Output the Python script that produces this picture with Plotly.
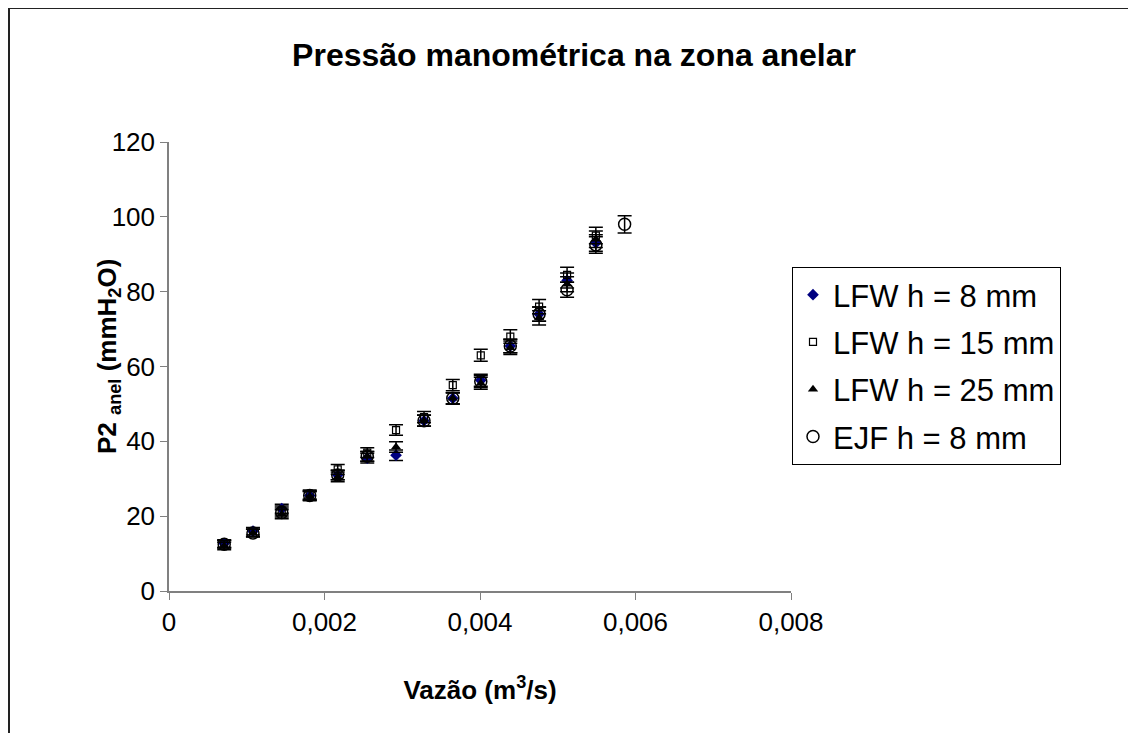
import plotly.graph_objects as go

# Data
vazao = [0.00071, 0.00108, 0.00145, 0.00181, 0.00217, 0.00255, 0.00292, 0.00328,
         0.00365, 0.00401, 0.00439, 0.00476, 0.00512, 0.00549]
vazao_ejf = [0.00071, 0.00108, 0.00145, 0.00181, 0.00217, 0.00255, 0.00328,
             0.00365, 0.00401, 0.00439, 0.00476, 0.00512, 0.00549, 0.00586]

lfw8 = [12.7, 16.0, 22.0, 25.5, 31.0, 35.5, 36.3, 45.5, 51.5, 56.3, 65.5, 74.0, 83.0, 93.0]
lfw15 = [12.5, 15.5, 21.5, 25.8, 32.5, 37.0, 43.0, 46.5, 55.0, 63.0, 68.0, 76.0, 84.5, 95.0]
lfw25 = [12.0, 15.5, 20.5, 25.3, 30.5, 36.0, 38.5, 45.5, 51.5, 55.5, 65.0, 73.0, 82.0, 94.0]
ejf8 = [12.5, 15.5, 21.0, 25.5, 31.0, 36.0, 45.5, 51.5, 56.0, 65.5, 74.0, 80.5, 92.5, 98.0]

err_lfw = [1.0, 1.0, 1.2, 1.2, 1.3, 1.3, 1.4, 1.5, 1.5, 1.6, 1.8, 1.9, 2.0, 2.2]
err_ejf = [1.0, 1.0, 1.2, 1.2, 1.3, 1.3, 1.5, 1.5, 1.6, 1.8, 1.9, 2.0, 2.2, 2.3]

names = ["LFW h = 8 mm", "LFW h = 15 mm", "LFW h = 25 mm", "EJF h = 8 mm"]

x_tickvals = [0, 0.002, 0.004, 0.006, 0.008]
x_ticktext = ["0", "0,002", "0,004", "0,006", "0,008"]
y_tickvals = [0, 20, 40, 60, 80, 100, 120]

FONT = "Liberation Sans, Arial, sans-serif"

fig = go.Figure()

def add(x, y, err, name, symbol, color, size, lw, group):
    fig.add_trace(go.Scatter(
        x=x, y=y, mode="markers", name=name, legendgroup=group,
        marker=dict(symbol=symbol, color=color, size=size,
                    line=dict(color=color, width=lw)),
        error_y=dict(type="data", array=err, visible=True, color="black",
                     thickness=1.5, width=7),
    ))

add(vazao, lfw8, err_lfw, names[0], "diamond", "#000080", 9, 0, "a")
add(vazao, lfw15, err_lfw, names[1], "square-open", "black", 7, 1.2, "b")
add(vazao, lfw25, err_lfw, names[2], "triangle-up", "black", 9, 0, "c")
add(vazao_ejf, ejf8, err_ejf, names[3], "circle-open", "black", 12, 1.5, "d")

# figure is drawn with an 8px page offset
W, H = 1128, 725
L, T = 161, 134
R, B = W - 783, H - 583
pw, ph = W - L - R, H - T - B

def px(xp):
    return (xp - L) / pw

def py(yp):
    return (H - B - yp) / ph

fig.update_layout(
    width=W, height=H,
    margin=dict(l=L, r=R, t=T, b=B, pad=0),
    paper_bgcolor="white", plot_bgcolor="white",
    font=dict(family=FONT, color="black", size=24),
    title=dict(text="<b>Pressão manométrica na zona anelar</b>",
               xref="paper", x=px(566), xanchor="center",
               yref="container", y=1 - 47 / H, yanchor="middle",
               font=dict(size=32, family=FONT, color="black")),
    showlegend=True,
    legend=dict(x=px(784), xanchor="left", y=py(259), yanchor="top",
                bordercolor="black", borderwidth=1, bgcolor="white",
                font=dict(size=31, family=FONT, color="black"),
                traceorder="grouped", tracegroupgap=4,
                itemwidth=30),
    annotations=[
        dict(text="<b>P2 <sub>anel</sub> (mmH<sub>2</sub>O)</b>",
             xref="paper", yref="paper", x=px(100), y=py(349),
             xanchor="center", yanchor="middle", textangle=-90,
             showarrow=False,
             font=dict(size=26, family=FONT, color="black")),
    ],
    shapes=[
        dict(type="line", xref="paper", yref="paper",
             x0=px(1), x1=px(1), y0=py(0), y1=py(740),
             line=dict(color="#222", width=2)),
        dict(type="line", xref="paper", yref="paper",
             x0=px(0), x1=px(1140), y0=py(0), y1=py(0),
             line=dict(color="#222", width=2)),
    ],
)

fig.update_xaxes(
    range=[0, 0.008], tickvals=x_tickvals, ticktext=x_ticktext,
    showgrid=False, zeroline=False, showline=True, linecolor="#808080",
    linewidth=1.5, ticks="outside", ticklen=7, tickcolor="#808080",
    tickfont=dict(size=26, family=FONT, color="black"),
    title=dict(text="<b>Vazão (m<sup>3</sup>/s)</b>",
               font=dict(size=26, family=FONT, color="black"), standoff=45),
)
fig.update_yaxes(
    range=[0, 120], tickvals=y_tickvals,
    showgrid=False, zeroline=False, showline=True, linecolor="#808080",
    linewidth=1.5, ticks="outside", ticklen=7, tickcolor="#808080",
    tickfont=dict(size=26, family=FONT, color="black"),
)

fig.write_html("out.html")
